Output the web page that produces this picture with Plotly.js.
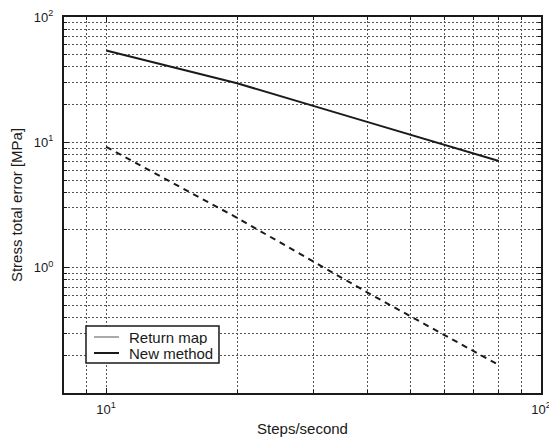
<!DOCTYPE html>
<html><head><meta charset="utf-8">
<script src="https://cdn.plot.ly/plotly-3.0.1.min.js"></script>
<style>html,body{margin:0;padding:0;background:#fff}#chart{width:549px;height:438px}</style>
</head><body><div id="chart"></div>
<script>
const steps = [10, 20, 40, 80];
const solidErrors = [54, 29.6, 14.5, 7.1];
const dashedErrors = [9.2, 2.5, 0.63, 0.167];
const legendNames = ['Return map', 'New method'];
const xTickVals = [10, 100];
const xTickText = ['10<sup>1</sup>', '10<sup>2</sup>'];
const yTickVals = [1, 10, 100];
const yTickText = ['10<sup>0</sup>', '10<sup>1</sup>', '10<sup>2</sup>'];
const xTitle = 'Steps/second';
const yTitle = 'Stress total error [MPa]';

const ink = '#1a1a1a';
const gridCol = '#555';
const fam = '"Liberation Sans", Arial, sans-serif';
const tickFont = {family: fam, size: 13, color: ink};
const titleFont = {family: fam, size: 15, color: ink};

const traces = [
  {x: steps, y: solidErrors, mode: 'lines', name: legendNames[1], line: {color: ink, width: 2}, showlegend: false, hoverinfo: 'skip'},
  {x: steps, y: dashedErrors, mode: 'lines', name: legendNames[0], line: {color: ink, width: 2, dash: '6px,5px'}, showlegend: false, hoverinfo: 'skip'}
];

const axisCommon = {
  type: 'log', tickmode: 'array', showline: true, linecolor: ink, linewidth: 2, mirror: 'allticks',
  ticks: 'inside', ticklen: 5, tickcolor: ink, tickwidth: 1, ticklabeloverflow: 'allow',
  showgrid: true, gridcolor: gridCol, griddash: '2px,2px', gridwidth: 1, zeroline: false,
  tickfont: tickFont,
  minor: {dtick: 'D1', showgrid: true, gridcolor: gridCol, griddash: '2px,2px', gridwidth: 1, ticks: 'inside', ticklen: 3, tickcolor: ink}
};

// hand-drawn legend box (paper coordinates)
const legBox = {x0: 0.0461, x1: 0.3249, y0: 0.0798, y1: 0.1782};
const legRows = [0.1489, 0.1064];
const legLineX = [0.0629, 0.1153];
const legTextX = 0.1342;
const legStyles = [{color: '#555', width: 1}, {color: ink, width: 2}];

const shapes = [
  {type: 'rect', xref: 'paper', yref: 'paper', x0: legBox.x0, x1: legBox.x1, y0: legBox.y0, y1: legBox.y1,
   fillcolor: '#fff', line: {color: ink, width: 1.5}, layer: 'above'}
];
const annotations = [];
legendNames.forEach((nm, i) => {
  shapes.push({type: 'line', xref: 'paper', yref: 'paper', x0: legLineX[0], x1: legLineX[1], y0: legRows[i], y1: legRows[i],
               line: legStyles[i], layer: 'above'});
  annotations.push({xref: 'paper', yref: 'paper', x: legTextX, y: legRows[i], xanchor: 'left', yanchor: 'middle',
                    text: nm, showarrow: false, font: titleFont, height: 16, borderpad: 0});
});

const layout = {
  width: 549, height: 438,
  margin: {l: 64, r: 8, t: 17, b: 45},
  paper_bgcolor: '#fff', plot_bgcolor: '#fff',
  font: tickFont,
  showlegend: false,
  shapes: shapes,
  annotations: annotations,
  xaxis: Object.assign({}, axisCommon, {range: [Math.log10(8), 2], tickvals: xTickVals, ticktext: xTickText,
          ticklabelstandoff: 3, title: {text: xTitle, font: titleFont, standoff: 8}}),
  yaxis: Object.assign({}, axisCommon, {range: [-1, 2], tickvals: yTickVals, ticktext: yTickText,
          ticklabelstandoff: 6, title: {text: yTitle, font: titleFont, standoff: 8}})
};

Plotly.newPlot('chart', traces, layout, {displayModeBar: false, staticPlot: true});
</script></body></html>
